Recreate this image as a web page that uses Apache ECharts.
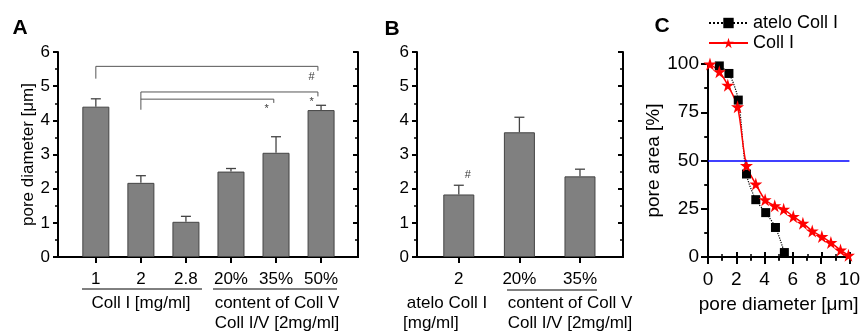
<!DOCTYPE html>
<html>
<head>
<meta charset="utf-8">
<script src="https://cdn.jsdelivr.net/npm/echarts@6/dist/echarts.min.js"></script>
<style>
  html, body { margin: 0; padding: 0; background: #fff; }
  #main { width: 863px; height: 334px; }
</style>
</head>
<body>
<div id="main"></div>
<script>
// panel A: pore diameter of the bars
const catsA = ['1', '2', '2.8', '20%', '35%', '50%']
const meanA = [4.40, 2.17, 1.03, 2.50, 3.05, 4.30]
const sdA = [0.23, 0.21, 0.16, 0.09, 0.47, 0.14]
// significance brackets and their marks in panel A
const bracketsA = [
  [[1, 5.22], [1, 5.58], [5.93, 5.58], [5.93, 5.45]],
  [[2, 4.31], [2, 4.83], [5.93, 4.83], [5.93, 4.70]],
  [[2, 4.62], [4.95, 4.62], [4.95, 4.51]]
]
const marksA = [[5.79, 5.28, '#'], [5.79, 4.55, '*'], [4.79, 4.33, '*']]

// panel B
const catsB = ['2', '20%', '35%']
const meanB = [1.83, 3.65, 2.36]
const sdB = [0.27, 0.44, 0.21]
const marksB = [[1.15, 2.40, '#']]

// panel C: cumulative pore area
const ateloX = [0.8, 1.48, 2.14, 2.72, 3.38, 4.08, 4.77, 5.40]
const ateloY = [99, 95.1, 81.3, 43, 29.7, 23, 15.3, 2.3]
const collX = [0.14, 0.8, 1.4, 2.09, 2.72, 3.38, 4.04, 4.72, 5.35, 6.03, 6.71, 7.37, 8.05, 8.69, 9.37, 9.93]
const collY = [100, 96, 89, 77.8, 47.4, 37.8, 29.7, 26.6, 24.8, 21, 17.5, 13.5, 10.6, 7.5, 3.6, 0.9]
const halfLine = 50

const FONT = 'Liberation Sans, Arial, sans-serif'
const STAR = 'path://M50,0 L61,35 L98,35 L68,57 L79,91 L50,70 L21,91 L32,57 L2,35 L39,35 Z'
const FS = 17   // font size of panels A and B
const FSC = 19  // font size of panel C

const zip = (xs, ys) => xs.map((x, i) => [x, ys[i]])

const AX = { color: '#000', width: 2 }
const line = { show: true, lineStyle: AX }
const noLine = { show: false }
const tick = (inside, length) => ({ inside, length: length || 5, lineStyle: AX })
const minor = (length) => ({ show: true, splitNumber: 2, length: length || 3, lineStyle: { color: '#000', width: 1.5 } })
const lbl = (margin, size) => ({ color: '#000', fontSize: size || FS, fontFamily: FONT, margin })
const nameStyle = (size) => ({ color: '#000', fontSize: size, fontFamily: FONT })

function barAxes(gridIndex, min, max, ticks, labels) {
  return {
    x: [{
      gridIndex, type: 'value', position: 'bottom', min, max,
      axisLine: line, splitLine: { show: false },
      axisTick: Object.assign(tick(false, 6), { customValues: ticks }),
      axisLabel: Object.assign(lbl(14), { customValues: ticks, formatter: v => labels[Math.round(v) - 1] })
    }, {
      gridIndex, type: 'value', position: 'top', min, max,
      axisLine: line, splitLine: { show: false },
      axisTick: Object.assign(tick(true, 6), { customValues: ticks }),
      axisLabel: { show: false }
    }],
    y: [{
      gridIndex, type: 'value', position: 'left', min: 0, max: 6, interval: 1,
      axisLine: line, splitLine: { show: false },
      axisTick: tick(false), minorTick: minor(),
      axisLabel: lbl(8)
    }, {
      gridIndex, type: 'value', position: 'right', min: 0, max: 6, interval: 1,
      axisLine: line, splitLine: { show: false },
      axisTick: tick(true), minorTick: minor(),
      axisLabel: { show: false }
    }]
  }
}

const axA = barAxes(0, 0.16, 6.82, [1, 2, 3, 4, 5, 6], catsA)
const axB = barAxes(1, 0.31, 3.71, [1, 2, 3], catsB)
axA.y[0].name = 'pore diameter [μm]'
axA.y[0].nameLocation = 'middle'
axA.y[0].nameGap = 12
axA.y[0].nameTextStyle = nameStyle(FS)

// C axes (the bottom axis has ticks on both sides, the inner ones come from an overlay grid)
const axC = {
  x: [{
    gridIndex: 2, type: 'value', position: 'bottom', min: 0, max: 10, interval: 2,
    axisLine: line, splitLine: { show: false }, axisTick: tick(false, 7), minorTick: minor(4),
    axisLabel: lbl(13, FSC),
    name: 'pore diameter [μm]', nameLocation: 'middle', nameGap: 38, nameTextStyle: nameStyle(FSC)
  }, {
    gridIndex: 2, type: 'value', position: 'top', min: 0, max: 10, interval: 2,
    axisLine: line, splitLine: { show: false }, axisTick: tick(true), minorTick: minor(),
    axisLabel: { show: false }
  }, {
    gridIndex: 3, type: 'value', position: 'bottom', min: 0, max: 10, interval: 2,
    axisLine: noLine, splitLine: { show: false }, axisTick: tick(true), minorTick: minor(),
    axisLabel: { show: false }
  }],
  y: [{
    gridIndex: 2, type: 'value', position: 'left', min: 0, max: 100, interval: 25,
    axisLine: line, splitLine: { show: false }, axisTick: tick(false, 7), minorTick: minor(4),
    axisLabel: lbl(9, FSC),
    name: 'pore area [%]', nameLocation: 'middle', nameGap: 33, nameTextStyle: nameStyle(FSC)
  }, {
    gridIndex: 2, type: 'value', position: 'right', min: 0, max: 100, interval: 25,
    axisLine: line, splitLine: { show: false }, axisTick: tick(true), minorTick: minor(),
    axisLabel: { show: false }
  }, {
    gridIndex: 3, type: 'value', position: 'left', min: 0, max: 100,
    axisLine: noLine, splitLine: { show: false }, axisTick: { show: false },
    axisLabel: { show: false }
  }]
}

function errorSeries(xAxisIndex, yAxisIndex, means, sds) {
  return {
    type: 'custom', xAxisIndex, yAxisIndex, z: 3,
    data: means.map((m, i) => [i + 1, m, m + sds[i]]),
    renderItem: function (params, api) {
      const base = api.coord([api.value(0), api.value(1)])
      const top = api.coord([api.value(0), api.value(2)])
      const style = { stroke: '#444', lineWidth: 1.3 }
      return {
        type: 'group',
        children: [
          { type: 'line', shape: { x1: base[0], y1: base[1], x2: top[0], y2: top[1] }, style },
          { type: 'line', shape: { x1: top[0] - 5, y1: top[1], x2: top[0] + 5, y2: top[1] }, style }
        ]
      }
    }
  }
}

function markSeries(xAxisIndex, yAxisIndex, marks) {
  return {
    type: 'scatter', xAxisIndex, yAxisIndex, symbolSize: 0, silent: true,
    data: marks,
    label: { show: true, position: 'inside', formatter: p => p.data[2], color: '#000', fontSize: 11, fontFamily: FONT }
  }
}

const barStyle = { color: '#808080', borderColor: '#444', borderWidth: 1 }

const series = [
  { type: 'bar', xAxisIndex: 0, yAxisIndex: 0, barWidth: 27, itemStyle: barStyle, data: meanA.map((v, i) => [i + 1, v]) },
  errorSeries(0, 0, meanA, sdA),
  markSeries(0, 0, marksA),
  { type: 'bar', xAxisIndex: 2, yAxisIndex: 2, barWidth: 31, itemStyle: barStyle, data: meanB.map((v, i) => [i + 1, v]) },
  errorSeries(2, 2, meanB, sdB),
  markSeries(2, 2, marksB),
  {
    name: 'atelo Coll I', type: 'line', xAxisIndex: 4, yAxisIndex: 4, smooth: 0.3,
    symbol: 'rect', symbolSize: 9, itemStyle: { color: '#000' },
    lineStyle: { color: '#000', width: 1.2, type: 'dotted' },
    data: zip(ateloX, ateloY)
  },
  {
    name: 'Coll I', type: 'line', xAxisIndex: 4, yAxisIndex: 4, smooth: 0.3,
    symbol: STAR, symbolSize: 13, itemStyle: { color: '#ff0000' },
    lineStyle: { color: '#ff0000', width: 1.5 },
    data: zip(collX, collY),
    markLine: {
      silent: true, symbol: 'none', label: { show: false },
      lineStyle: { color: '#0000ff', width: 1.5, type: 'solid' },
      data: [{ yAxis: halfLine }]
    }
  }
]
bracketsA.forEach(b => series.push({
  type: 'line', xAxisIndex: 0, yAxisIndex: 0, symbol: 'none', silent: true,
  lineStyle: { color: '#555', width: 1 }, data: b
}))

const txt = (text, x, y, extra) => ({
  type: 'text', x, y,
  style: Object.assign({ text, fill: '#000', font: FS + 'px ' + FONT, align: 'center', verticalAlign: 'middle' }, extra || {})
})
const hline = (x1, x2, y) => ({ type: 'line', shape: { x1, y1: y, x2, y2: y }, style: { stroke: '#000', lineWidth: 1 } })

const myChart = echarts.init(document.getElementById('main'))
myChart.setOption({
  animation: false,
  textStyle: { fontFamily: FONT },
  grid: [
    { left: 58, right: 505, top: 52, bottom: 77 },
    { left: 417, right: 240, top: 52, bottom: 77 },
    { left: 708, right: 13, top: 64, bottom: 77 },
    { left: 708, right: 13, top: 64, bottom: 77 }
  ],
  xAxis: [...axA.x, ...axB.x, ...axC.x],
  yAxis: [...axA.y, ...axB.y, ...axC.y],
  legend: {
    orient: 'vertical', left: 708, top: 14, padding: 0, itemGap: 2, itemWidth: 39, itemHeight: 13,
    data: ['atelo Coll I', 'Coll I'],
    textStyle: { color: '#000', fontSize: 18, fontFamily: FONT }
  },
  graphic: [
    txt('A', 20, 28, { font: 'bold 21px ' + FONT }),
    txt('B', 392, 29, { font: 'bold 21px ' + FONT }),
    txt('C', 662, 26, { font: 'bold 21px ' + FONT }),
    hline(82, 202, 289),
    hline(213, 337, 289),
    txt('Coll I [mg/ml]', 141, 303),
    txt('content of Coll V', 277, 303),
    txt('Coll I/V [2mg/ml]', 277, 323),
    hline(507, 597, 290),
    txt('atelo Coll I', 447, 303),
    txt('[mg/ml]', 403, 323, { align: 'left' }),
    txt('content of Coll V', 570, 303),
    txt('Coll I/V [2mg/ml]', 570, 323)
  ],
  series
})
</script>
</body>
</html>
